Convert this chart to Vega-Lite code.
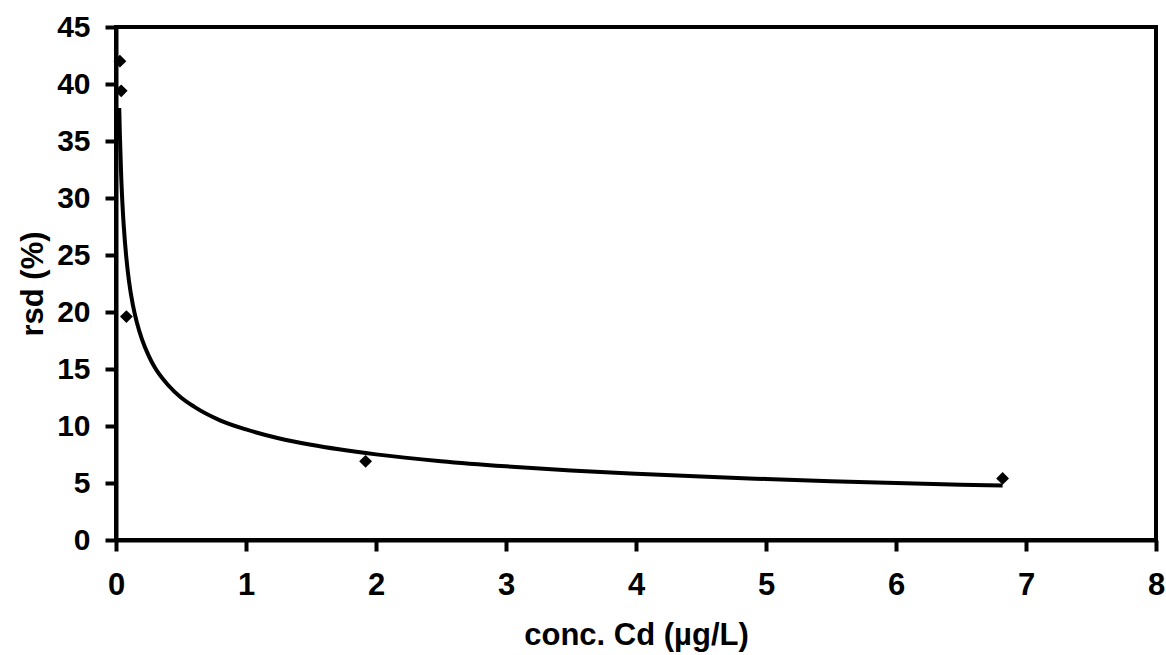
{
  "$schema": "https://vega.github.io/schema/vega-lite/v6.json",
  "width": 1040,
  "height": 513,
  "autosize": "none",
  "padding": {"left": 116, "top": 27, "right": 10, "bottom": 115},
  "background": "white",
  "config": {
    "view": {"stroke": "black", "strokeWidth": 4},
    "font": "Liberation Sans"
  },
  "datasets": {
    "points": [
      {"conc": 0.03, "rsd": 42.0},
      {"conc": 0.04, "rsd": 39.4},
      {"conc": 0.08, "rsd": 19.6},
      {"conc": 1.92, "rsd": 6.9},
      {"conc": 6.82, "rsd": 5.4}
    ],
    "trend": [
      {"conc": 0.025, "rsd": 37.9},
      {"conc": 0.03, "rsd": 35.5},
      {"conc": 0.04, "rsd": 31.9},
      {"conc": 0.05, "rsd": 29.4},
      {"conc": 0.06, "rsd": 27.5},
      {"conc": 0.08, "rsd": 24.7},
      {"conc": 0.1, "rsd": 22.7},
      {"conc": 0.13, "rsd": 20.6},
      {"conc": 0.16, "rsd": 19.1},
      {"conc": 0.2, "rsd": 17.6},
      {"conc": 0.25, "rsd": 16.2},
      {"conc": 0.3, "rsd": 15.1},
      {"conc": 0.4, "rsd": 13.6},
      {"conc": 0.5, "rsd": 12.5},
      {"conc": 0.6, "rsd": 11.7},
      {"conc": 0.8, "rsd": 10.5},
      {"conc": 1.0, "rsd": 9.7},
      {"conc": 1.25, "rsd": 8.93},
      {"conc": 1.5, "rsd": 8.35},
      {"conc": 2.0, "rsd": 7.51},
      {"conc": 2.5, "rsd": 6.91},
      {"conc": 3.0, "rsd": 6.46},
      {"conc": 3.5, "rsd": 6.1},
      {"conc": 4.0, "rsd": 5.81},
      {"conc": 4.5, "rsd": 5.56},
      {"conc": 5.0, "rsd": 5.35},
      {"conc": 5.5, "rsd": 5.16},
      {"conc": 6.0, "rsd": 5.0},
      {"conc": 6.5, "rsd": 4.85},
      {"conc": 6.82, "rsd": 4.77}
    ]
  },
  "layer": [
    {
      "data": {"name": "trend"},
      "mark": {"type": "line", "color": "black", "strokeWidth": 4, "interpolate": "monotone", "clip": true},
      "encoding": {
        "x": {"field": "conc", "type": "quantitative", "scale": {"domain": [0, 8], "nice": false},
              "axis": {"values": [0,1,2,3,4,5,6,7,8], "format": "d", "title": "conc. Cd (µg/L)", "labelFlush": false,
                       "grid": false, "domainColor": "black", "domainWidth": 4, "tickColor": "black", "tickWidth": 4, "tickSize": 11,
                       "labelFont": "Liberation Sans", "labelFontWeight": "bold", "labelFontSize": 31, "labelColor": "black", "labelPadding": 19,
                       "titleFont": "Liberation Sans", "titleFontWeight": "bold", "titleFontSize": 31, "titleColor": "black", "titlePadding": 20}},
        "y": {"field": "rsd", "type": "quantitative", "scale": {"domain": [0, 45], "nice": false},
              "axis": {"values": [0,5,10,15,20,25,30,35,40,45], "format": "d", "title": "rsd (%)", "labelFlush": false,
                       "grid": false, "domainColor": "black", "domainWidth": 4, "tickColor": "black", "tickWidth": 4, "tickSize": 11,
                       "labelFont": "Liberation Sans", "labelFontWeight": "bold", "labelFontSize": 30, "labelColor": "black", "labelPadding": 15,
                       "titleFont": "Liberation Sans", "titleFontWeight": "bold", "titleFontSize": 31, "titleColor": "black", "titlePadding": 7}}
      }
    },
    {
      "data": {"name": "points"},
      "mark": {"type": "point", "shape": "diamond", "filled": true, "color": "black", "size": 165, "opacity": 1},
      "encoding": {
        "x": {"field": "conc", "type": "quantitative"},
        "y": {"field": "rsd", "type": "quantitative"}
      }
    }
  ]
}
